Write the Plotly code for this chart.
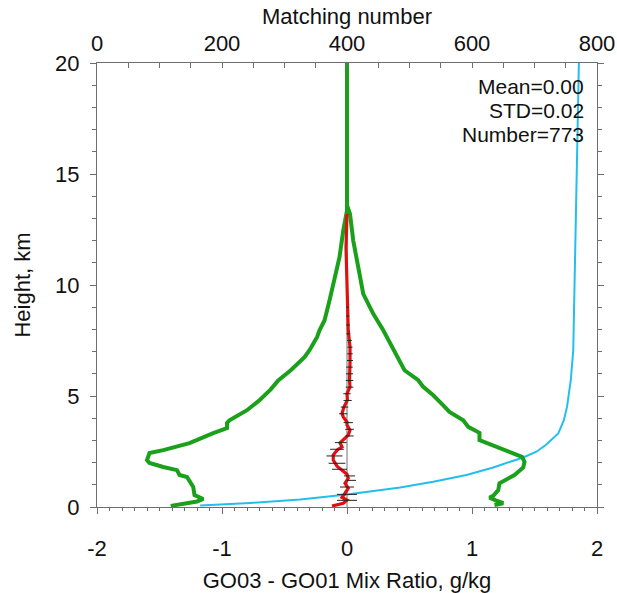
import plotly.graph_objects as go

# ---------------- data ----------------
# Left green envelope: mix-ratio difference (g/kg) vs height (km)
green_left_h = [0.05, 0.25, 0.36, 0.54, 0.90, 1.17, 1.35, 1.44, 1.66, 1.80, 1.98, 2.11,
                2.43, 2.56, 2.88, 3.33, 3.55, 3.78, 3.91, 4.36, 4.81, 5.30, 5.70, 6.16,
                6.53, 6.75, 7.06, 7.65, 7.96, 8.40, 9.30, 10.2, 11.25, 12.45, 13.35, 20.0]
green_left_x = [-1.41, -1.20, -1.15, -1.22, -1.23, -1.26, -1.28, -1.34, -1.36, -1.47, -1.58, -1.60,
                -1.58, -1.47, -1.26, -1.07, -0.96, -0.96, -0.94, -0.80, -0.70, -0.61, -0.55, -0.45,
                -0.38, -0.34, -0.30, -0.24, -0.22, -0.18, -0.14, -0.10, -0.06, -0.03, 0.0, 0.0]

# Right green envelope
green_right_h = [0.09, 0.17, 0.30, 0.42, 0.50, 0.76, 1.07, 1.21, 1.44, 1.78, 2.04, 2.26,
                 2.49, 2.79, 3.01, 3.34, 3.61, 3.91, 4.28, 4.58, 5.03, 5.41, 5.71, 6.16,
                 6.60, 7.20, 7.96, 8.70, 9.60, 10.8, 12.0, 13.2, 13.6, 20.0]
green_right_x = [1.18, 1.25, 1.19, 1.14, 1.17, 1.21, 1.22, 1.27, 1.34, 1.41, 1.42, 1.40,
                 1.30, 1.17, 1.06, 1.06, 0.97, 0.93, 0.82, 0.77, 0.69, 0.61, 0.57, 0.46,
                 0.42, 0.36, 0.29, 0.21, 0.13, 0.09, 0.05, 0.024, 0.0, 0.0]

# Red mean-difference profile
red_h = [0.04, 0.17, 0.31, 0.43, 0.62, 0.84, 1.07, 1.29, 1.48, 1.66, 1.84, 2.11,
         2.34, 2.56, 2.71, 2.89, 3.01, 3.24, 3.46, 3.69, 3.83, 4.06, 4.21, 4.51,
         4.81, 5.11, 5.41, 5.71, 6.47, 7.20, 7.96, 8.72, 10.2, 11.7, 13.2]
red_x = [-0.12, -0.03, 0.0, -0.04, -0.016, 0.01, -0.016, 0.01, 0.0, -0.04, -0.08, -0.11,
         -0.11, -0.08, -0.04, -0.056, -0.03, 0.01, 0.024, 0.0, 0.0, -0.03, -0.04, -0.024,
         0.003, 0.0, 0.024, 0.02, 0.024, 0.024, 0.01, 0.006, 0.0, -0.008, 0.0]

# Horizontal error bars on the mean profile
err_h = [0.30, 0.57, 0.90, 1.20, 1.40, 1.70, 1.97, 2.30, 2.60, 2.90, 3.20, 3.50, 3.80,
         4.20, 4.50, 4.80, 5.10, 5.40, 5.70, 6.00, 6.30, 6.60, 6.90, 7.20, 7.50, 7.80,
         8.20, 8.60, 9.00]
err_x = [0.0, 0.0, 0.0, 0.035, 0.02, -0.06, -0.08, -0.10, -0.08, -0.05, 0.02, 0.02, 0.01,
         -0.03, -0.02, 0.005, 0.0, 0.02, 0.02, 0.02, 0.02, 0.024, 0.024, 0.024, 0.02, 0.01,
         0.008, 0.006, 0.004]
err_half = [0.08, 0.08, 0.056, 0.037, 0.044, 0.06, 0.067, 0.064, 0.055, 0.047, 0.033, 0.035,
            0.037, 0.033, 0.03, 0.033, 0.03, 0.03, 0.03, 0.028, 0.026, 0.024, 0.022, 0.02,
            0.018, 0.016, 0.014, 0.012, 0.01]

# Gray zero reference line
zero_h = [0.0, 13.3]
zero_x = [0.0, 0.0]

# Cyan: matching number vs height
cyan_h = [0.07, 0.18, 0.34, 0.56, 0.88, 1.14, 1.44, 1.78, 2.04, 2.23, 2.49, 2.79,
          3.31, 3.91, 4.51, 5.26, 5.70, 7.05, 10.0, 13.8, 17.0, 20.0]
cyan_n = [165, 245, 325, 400, 485, 538, 591, 634, 661, 682, 703, 718,
          738, 747, 752, 756, 758, 762, 764, 766, 768, 771]

stats_text = ["Mean=0.00", "STD=0.02", "Number=773"]

bottom_ticks = [-2, -1, 0, 1, 2]
bottom_ticklabels = ["-2", "-1", "0", "1", "2"]
top_ticks = [0, 200, 400, 600, 800]
left_ticks = [0, 5, 10, 15, 20]

# ---------------- figure ----------------
FONT = "Liberation Sans, Arial, sans-serif"
AX = "#6e6e6e"
fig = go.Figure()

fig.add_trace(go.Scatter(x=cyan_n, y=cyan_h, mode="lines", xaxis="x", yaxis="y",
                         line=dict(color="#22bfee", width=2), showlegend=False))
fig.add_trace(go.Scatter(x=zero_x, y=zero_h, mode="lines", xaxis="x2", yaxis="y",
                         line=dict(color="#a0a0a0", width=1.5), showlegend=False))
fig.add_trace(go.Scatter(x=green_left_x, y=green_left_h, mode="lines", xaxis="x2", yaxis="y",
                         line=dict(color="#1aa01a", width=4), showlegend=False))
fig.add_trace(go.Scatter(x=green_right_x, y=green_right_h, mode="lines", xaxis="x2", yaxis="y",
                         line=dict(color="#1aa01a", width=4), showlegend=False))
fig.add_trace(go.Scatter(x=red_x, y=red_h, mode="lines", xaxis="x2", yaxis="y",
                         line=dict(color="#dd1111", width=3.2), showlegend=False))
fig.add_trace(go.Scatter(x=err_x, y=err_h, mode="markers", xaxis="x2", yaxis="y",
                         marker=dict(size=0.1, color="rgba(0,0,0,0)"),
                         error_x=dict(type="data", array=err_half, symmetric=True,
                                      color="#222222", thickness=1, width=0),
                         showlegend=False))

for i, t in enumerate(stats_text):
    fig.add_annotation(text=t, xref="x domain", yref="y domain",
                       x=0.978, y=0.948 - i * 0.054, xanchor="right", yanchor="middle",
                       showarrow=False, font=dict(size=21, color="#111111", family=FONT))

tickfont = dict(size=22, color="#111111", family=FONT)
titlefont = dict(size=22, color="#111111", family=FONT)

fig.update_layout(
    width=617, height=593,
    margin=dict(l=97, r=20, t=63, b=86, autoexpand=False),
    paper_bgcolor="white", plot_bgcolor="white",
    font=dict(family=FONT),
    xaxis=dict(range=[0, 800], side="top", anchor="y", automargin=False,
               tickmode="array", tickvals=top_ticks,
               ticks="inside", ticklen=5, tickcolor=AX, tickwidth=1,
               minor=dict(dtick=50, ticks="inside", ticklen=5, tickcolor=AX),
               showline=True, linecolor=AX, linewidth=1, showgrid=False, zeroline=False,
               tickfont=tickfont, ticklabelstandoff=2,
               title=dict(text="Matching number", font=titlefont, standoff=0)),
    xaxis2=dict(range=[-2, 2], side="bottom", overlaying="x", anchor="y", automargin=False,
                tickmode="array", tickvals=bottom_ticks, ticktext=bottom_ticklabels,
                ticks="outside", ticklen=6, tickcolor=AX, tickwidth=1,
                minor=dict(dtick=0.1, tick0=0, ticks="outside", ticklen=3, tickcolor=AX),
                showline=True, linecolor=AX, linewidth=1, showgrid=False, zeroline=False,
                tickfont=tickfont, ticklabelstandoff=16,
                title=dict(text="GO03 - GO01 Mix Ratio, g/kg", font=titlefont, standoff=12)),
    yaxis=dict(range=[0, 20], tickmode="array", tickvals=left_ticks, automargin=False,
               ticks="outside", ticklen=6, tickcolor=AX, tickwidth=1,
               minor=dict(dtick=1, ticks="outside", ticklen=4, tickcolor=AX),
               showline=True, mirror="ticks", linecolor=AX, linewidth=1,
               showgrid=False, zeroline=False, tickfont=tickfont, ticklabelstandoff=6,
               title=dict(text="Height, km", font=titlefont, standoff=18)),
)

fig.write_html("out.html")
